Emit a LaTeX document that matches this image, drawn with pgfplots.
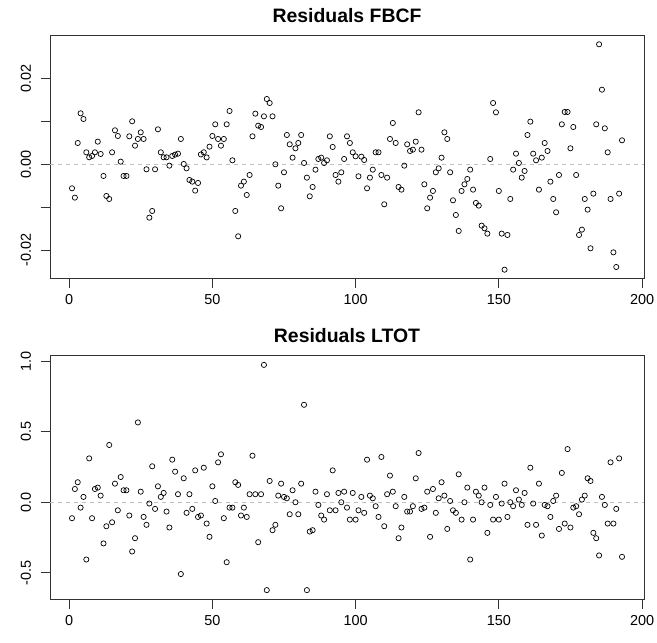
\documentclass[border=0pt]{standalone}
\usepackage{fontspec}
\setmainfont{Liberation Sans}
\usepackage{pgfplots}
\pgfplotsset{compat=1.18}
\usepackage{pgfplotstable}

\pgfplotstableread{
x y
1 -0.00558
2 -0.00775
3 0.00496
4 0.01186
5 0.01054
6 0.00279
7 0.00163
8 0.00194
9 0.00279
10 0.00527
11 0.00240
12 -0.00271
13 -0.00736
14 -0.00806
15 0.00279
16 0.00791
17 0.00659
18 0.00062
19 -0.00271
20 -0.00271
21 0.00651
22 0.01000
23 0.00434
24 0.00589
25 0.00744
26 0.00589
27 -0.00116
28 -0.01240
29 -0.01085
30 -0.00116
31 0.00814
32 0.00279
33 0.00163
34 0.00163
35 -0.00031
36 0.00194
37 0.00225
38 0.00248
39 0.00589
40 0.00008
41 -0.00093
42 -0.00364
43 -0.00403
44 -0.00612
45 -0.00434
46 0.00230
47 0.00280
48 0.00160
49 0.00411
50 0.00659
51 0.00930
52 0.00589
53 0.00434
54 0.00589
55 0.00930
56 0.01240
57 0.00093
58 -0.01085
59 -0.01674
60 -0.00496
61 -0.00403
62 -0.00713
63 -0.00248
64 0.00651
65 0.01178
66 0.00899
67 0.00868
68 0.01116
69 0.01519
70 0.01426
71 0.01116
72 0.00000
73 -0.00496
74 -0.01023
75 -0.00186
76 0.00682
77 0.00465
78 0.00155
79 0.00372
80 0.00496
81 0.00682
82 0.00031
83 -0.00310
84 -0.00744
85 -0.00527
86 -0.00124
87 0.00124
88 0.00155
89 0.00031
90 0.00093
91 0.00651
92 0.00403
93 -0.00248
94 -0.00403
95 -0.00186
96 0.00124
97 0.00651
98 0.00496
99 0.00279
100 0.00186
101 -0.00279
102 0.00178
103 0.00101
104 -0.00558
105 -0.00310
106 -0.00124
107 0.00279
108 0.00279
109 -0.00248
110 -0.00930
111 -0.00310
112 0.00589
113 0.00961
114 0.00496
115 -0.00527
116 -0.00589
117 -0.00031
118 0.00465
119 0.00310
120 0.00341
121 0.00527
122 0.01209
123 0.00341
124 -0.00465
125 -0.01023
126 -0.00775
127 -0.00620
128 -0.00186
129 -0.00093
130 0.00155
131 0.00744
132 0.00589
133 -0.00186
134 -0.00837
135 -0.01178
136 -0.01550
137 -0.00620
138 -0.00465
139 -0.00341
140 -0.00124
141 -0.00589
142 -0.00899
143 -0.00961
144 -0.01426
145 -0.01488
146 -0.01612
147 0.00124
148 0.01426
149 0.01209
150 -0.00620
151 -0.01612
152 -0.02450
153 -0.01643
154 -0.00806
155 -0.00124
156 0.00248
157 0.00031
158 -0.00310
159 -0.00155
160 0.00682
161 0.00992
162 0.00248
163 0.00093
164 -0.00589
165 0.00155
166 0.00496
167 0.00310
168 -0.00403
169 -0.00806
170 -0.01116
171 -0.00248
172 0.00930
173 0.01217
174 0.01217
175 0.00372
176 0.00868
177 -0.00248
178 -0.01643
179 -0.01519
180 -0.00806
181 -0.01054
182 -0.01953
183 -0.00682
184 0.00930
185 0.02791
186 0.01736
187 0.00837
188 0.00279
189 -0.00806
190 -0.02047
191 -0.02388
192 -0.00682
193 0.00558
}\fbcf

\pgfplotstableread{
x y
1 -0.113
2 0.094
3 0.142
4 -0.038
5 0.038
6 -0.406
7 0.311
8 -0.113
9 0.094
10 0.104
11 0.047
12 -0.292
13 -0.170
14 0.406
15 -0.142
16 0.132
17 -0.057
18 0.179
19 0.085
20 0.085
21 -0.094
22 -0.349
23 -0.255
24 0.566
25 0.075
26 -0.104
27 -0.160
28 -0.009
29 0.255
30 -0.047
31 0.113
32 0.038
33 0.066
34 -0.066
35 -0.179
36 0.302
37 0.217
38 0.057
39 -0.509
40 0.170
41 -0.075
42 0.057
43 -0.047
44 0.226
45 -0.104
46 -0.094
47 0.245
48 -0.151
49 -0.245
50 0.113
51 0.009
52 0.283
53 0.340
54 -0.113
55 -0.425
56 -0.038
57 -0.038
58 0.142
59 0.123
60 -0.094
61 -0.038
62 -0.104
63 0.057
64 0.330
65 0.057
66 -0.283
67 0.057
68 0.974
69 -0.623
70 0.151
71 -0.198
72 -0.160
73 0.047
74 0.132
75 0.038
76 0.028
77 -0.085
78 0.085
79 0.000
80 -0.085
81 0.132
82 0.691
83 -0.623
84 -0.208
85 -0.198
86 0.075
87 -0.019
88 -0.094
89 -0.123
90 0.057
91 -0.057
92 0.226
93 -0.057
94 0.066
95 0.000
96 0.075
97 -0.038
98 -0.123
99 0.066
100 -0.123
101 -0.057
102 0.038
103 -0.075
104 0.302
105 0.047
106 0.028
107 -0.028
108 -0.104
109 0.321
110 -0.170
111 0.057
112 0.189
113 0.075
114 -0.028
115 -0.255
116 -0.179
117 0.038
118 -0.066
119 -0.066
120 -0.028
121 0.170
122 0.349
123 -0.047
124 -0.038
125 0.075
126 -0.245
127 0.094
128 -0.075
129 0.028
130 0.142
131 0.047
132 -0.189
133 0.009
134 -0.057
135 -0.075
136 0.198
137 -0.123
138 0.000
139 0.104
140 -0.406
141 -0.123
142 0.075
143 0.047
144 0.000
145 0.104
146 -0.217
147 -0.019
148 -0.123
149 0.038
150 -0.123
151 -0.009
152 0.132
153 -0.104
154 0.000
155 -0.028
156 0.085
157 0.019
158 -0.019
159 0.066
160 -0.160
161 0.245
162 -0.009
163 -0.160
164 0.132
165 -0.236
166 -0.019
167 -0.028
168 -0.104
169 0.009
170 0.047
171 -0.189
172 0.208
173 -0.151
174 0.377
175 -0.179
176 -0.038
177 -0.028
178 -0.085
179 0.019
180 0.047
181 0.170
182 0.151
183 -0.217
184 -0.255
185 -0.377
186 0.038
187 -0.019
188 -0.151
189 0.283
190 -0.151
191 -0.047
192 0.311
193 -0.387
}\ltot

\pgfplotsset{
  resid/.style={
    scale only axis,
    width=594bp,
    xmin=-6.68, xmax=200.68,
    axis line style={line width=0.8bp, color=black!80},
    tick align=outside,
    tick pos=left,
    major tick length=9.5bp,
    tick style={line width=0.8bp, color=black!80},
    xtick={0,50,100,150,200},
    scaled ticks=false,
    /pgf/number format/assume math mode=true,
    ticklabel style={font=\fontsize{14.5}{16}\selectfont},
    yticklabel style={rotate=90, anchor=south},
    yticklabel shift=6bp,
    xticklabel shift=3bp,
    title style={font=\fontsize{19.5}{22}\selectfont\bfseries, yshift=3bp},
    clip=false,
  },
  respts/.style={only marks, mark=o, mark size=2.6bp,
    mark options={line width=0.7bp, draw=black}},
  zeroline/.style={no marks, draw=black!25, line width=0.8bp, dash pattern=on 4bp off 4bp}
}

\begin{document}
\begin{tikzpicture}
\path[use as bounding box] (-50bp,35bp) rectangle (607bp,-608bp);
\begin{axis}[resid,
  at={(0,0)}, anchor=north west,
  height=243bp,
  ymin=-0.02644, ymax=0.03007,
  ytick={-0.02,-0.01,0,0.01,0.02},
  yticklabels={-0.02,,0.00,,0.02},
  title={Residuals FBCF}]
\addplot[zeroline] coordinates {(-6.68,0) (200.68,0)};
\addplot[respts] table[x=x,y=y] {\fbcf};
\end{axis}
\begin{axis}[resid,
  at={(0,-320bp)}, anchor=north west,
  height=244bp,
  ymin=-0.686, ymax=1.044,
  ytick={-0.5,0,0.5,1},
  yticklabels={-0.5,0.0,0.5,1.0},
  title={Residuals LTOT}]
\addplot[zeroline] coordinates {(-6.68,0) (200.68,0)};
\addplot[respts] table[x=x,y=y] {\ltot};
\end{axis}
\end{tikzpicture}
\end{document}
